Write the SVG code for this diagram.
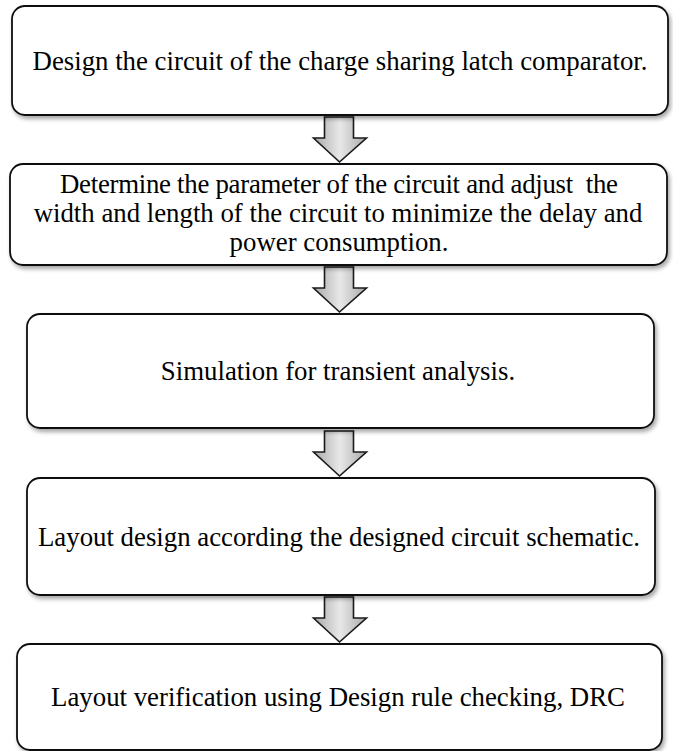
<svg xmlns="http://www.w3.org/2000/svg" width="673" height="751" viewBox="0 0 673 751">
<defs>
<filter id="sh" x="-5%" y="-10%" width="115%" height="130%">
<feDropShadow dx="2" dy="3" stdDeviation="2" flood-color="#000" flood-opacity="0.35"/>
</filter>
<linearGradient id="ag" x1="0" y1="0" x2="1" y2="0">
<stop offset="0" stop-color="#a8a8a8"/>
<stop offset="0.5" stop-color="#e8e8e8"/>
<stop offset="1" stop-color="#a8a8a8"/>
</linearGradient>
<path id="arr" d="M-15,0 H14 V21 H27 L0,45 L-26,21 H-15 Z"/>
</defs>
<style>
.box{fill:#fff;stroke:#111;stroke-width:1.8;filter:url(#sh)}
.t{font-family:"Liberation Serif","Times New Roman",serif;font-size:26.8px;fill:#000;text-anchor:middle;white-space:pre}
.a{fill:url(#ag);stroke:#1a1a1a;stroke-width:1.6;stroke-linejoin:miter}
</style>
<g id="connectors">
<use href="#arr" class="a" x="339.5" y="117"/>
<use href="#arr" class="a" x="339.5" y="267"/>
<use href="#arr" class="a" x="339.5" y="431"/>
<use href="#arr" class="a" x="339.5" y="597"/>
</g>
<g id="n1">
<rect class="box" x="12" y="6" width="656" height="109" rx="13"/>
<text class="t" x="340" y="70">Design the circuit of the charge sharing latch comparator.</text>
</g>
<g id="n2">
<rect class="box" x="10" y="164" width="657" height="101" rx="13"/>
<text class="t" x="339" y="193" textLength="558" lengthAdjust="spacing">Determine the parameter of the circuit and adjust  the</text>
<text class="t" x="338" y="222">width and length of the circuit to minimize the delay and</text>
<text class="t" x="339" y="251">power consumption.</text>
</g>
<g id="n3">
<rect class="box" x="27" y="314" width="627" height="114" rx="13"/>
<text class="t" x="338" y="380">Simulation for transient analysis.</text>
</g>
<g id="n4">
<rect class="box" x="27" y="478" width="628" height="117" rx="13"/>
<text class="t" x="339" y="546">Layout design according the designed circuit schematic.</text>
</g>
<g id="n5">
<rect class="box" x="17" y="644" width="645" height="106" rx="13"/>
<text class="t" x="338" y="706">Layout verification using Design rule checking, DRC</text>
</g>
</svg>
